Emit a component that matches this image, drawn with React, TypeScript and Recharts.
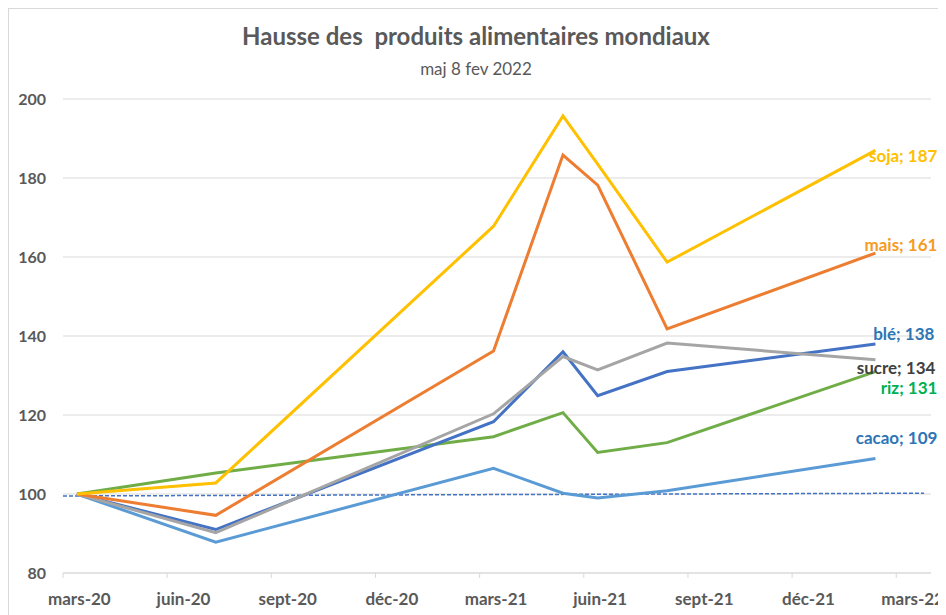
import React from "react";
import {
  LineChart,
  Line,
  XAxis,
  YAxis,
  CartesianGrid,
  LabelList,
} from "recharts";

// mois (index depuis mars-20) des relevés
const months = ["mars-20", "juil-20", "mars-21", "mai-21", "juin-21", "août-21", "févr-22"];
const monthIndex = [0, 4, 12, 14, 15, 17, 23];

const soja = [100, 102.8, 167.8, 195.7, 183.5, 158.7, 187];
const mais = [100, 94.6, 136.2, 185.8, 178.2, 141.8, 161];
const ble = [100, 91, 118.3, 136, 124.9, 131, 138];
const sucre = [100, 90.2, 120.3, 134.8, 131.4, 138.2, 134];
const riz = [100, 105.3, 114.5, 120.6, 110.5, 113, 131];
const cacao = [100, 87.8, 106.5, 100.2, 99, 100.8, 109];

const baseLine = [
  { x: 0, base: 99.5 },
  { x: 24.8, base: 100.2 },
];

const tickLabels = ["mars-20", "juin-20", "sept-20", "déc-20", "mars-21", "juin-21", "sept-21", "déc-21", "mars-22"];
const xTicks = [0, 3, 6, 9, 12, 15, 18, 21, 24];
const yTicks = [80, 100, 120, 140, 160, 180, 200];

const data = months.map((m, i) => ({
  month: m,
  x: monthIndex[i] + 0.4,
  soja: soja[i],
  mais: mais[i],
  ble: ble[i],
  sucre: sucre[i],
  riz: riz[i],
  cacao: cacao[i],
}));

const FONT = "Lato, 'Open Sans', sans-serif";
const SLOT = 868 / 25;

const endLabel = (name: string, color: string, dy: number, endX: number) => (props: any) => {
  const { x, y, index, value } = props;
  if (index !== data.length - 1) return null;
  return (
    <text
      x={x + endX}
      y={y + dy}
      textAnchor="end"
      dominantBaseline="central"
      fill={color}
      fontSize={17}
      fontWeight="bold"
      fontFamily={FONT}
    >
      {`${name}; ${Math.round(value)}`}
    </text>
  );
};

export default function App() {
  return (
    <div
      style={{
        position: "relative",
        width: 934,
        height: 620,
        border: "1px solid #d9d9d9",
        background: "#fff",
        fontFamily: FONT,
      }}
    >
      <div
        style={{
          position: "absolute",
          top: 12,
          left: 0,
          width: "100%",
          textAlign: "center",
          fontSize: 24,
          fontWeight: "bold",
          color: "#595959",
          whiteSpace: "pre",
        }}
      >
        {"Hausse des  produits alimentaires mondiaux"}
      </div>
      <div
        style={{
          position: "absolute",
          top: 49,
          left: 0,
          width: "100%",
          textAlign: "center",
          fontSize: 17,
          color: "#595959",
        }}
      >
        maj 8 fev 2022
      </div>
      <div style={{ position: "absolute", top: 0, left: 0 }}>
        <LineChart
          width={937}
          height={606}
          data={data}
          margin={{ top: 90, right: 15, bottom: 2, left: 0 }}
          style={{ overflow: "visible" }}
        >
          <CartesianGrid vertical={false} stroke="#d9d9d9" strokeWidth={1} />
          <XAxis
            dataKey="x"
            type="number"
            domain={[0, 25]}
            ticks={xTicks}
            tickFormatter={(v: number) => tickLabels[xTicks.indexOf(v)]}
            interval={0}
            height={40}
            axisLine={{ stroke: "#d9d9d9" }}
            tickLine={{ stroke: "#d9d9d9" }}
            tickSize={5}
            tickMargin={15}
            tick={{ dx: SLOT / 2 - 1, fill: "#595959", fontSize: 17, fontWeight: "bold", fontFamily: FONT }}
          />
          <YAxis
            type="number"
            domain={[80, 200]}
            ticks={yTicks}
            width={54}
            axisLine={false}
            tickLine={false}
            tickSize={0}
            tickMargin={17}
            tick={{ fill: "#595959", fontSize: 16, fontWeight: "bold", fontFamily: FONT }}
          />
          <Line
            data={baseLine}
            dataKey="base"
            stroke="#4472C4"
            strokeWidth={1.5}
            strokeDasharray="4 2"
            dot={false}
            isAnimationActive={false}
          />
          <Line dataKey="cacao" stroke="#5B9BD5" strokeWidth={3} dot={false} isAnimationActive={false}>
            <LabelList dataKey="cacao" content={endLabel("cacao", "#2E75B6", -21, 62)} />
          </Line>
          <Line dataKey="riz" stroke="#70AD47" strokeWidth={3} dot={false} isAnimationActive={false}>
            <LabelList dataKey="riz" content={endLabel("riz", "#00B050", 16, 62)} />
          </Line>
          <Line dataKey="ble" stroke="#4472C4" strokeWidth={3} dot={false} isAnimationActive={false}>
            <LabelList dataKey="ble" content={endLabel("blé", "#2E75B6", -10, 59)} />
          </Line>
          <Line dataKey="sucre" stroke="#A5A5A5" strokeWidth={3} dot={false} isAnimationActive={false}>
            <LabelList dataKey="sucre" content={endLabel("sucre", "#404040", 8, 60)} />
          </Line>
          <Line dataKey="mais" stroke="#ED7D31" strokeWidth={3} dot={false} isAnimationActive={false}>
            <LabelList dataKey="mais" content={endLabel("mais", "#F59B23", -9, 62)} />
          </Line>
          <Line dataKey="soja" stroke="#FFC000" strokeWidth={3} dot={false} isAnimationActive={false}>
            <LabelList dataKey="soja" content={endLabel("soja", "#FFC000", 5, 62)} />
          </Line>
        </LineChart>
      </div>
    </div>
  );
}
